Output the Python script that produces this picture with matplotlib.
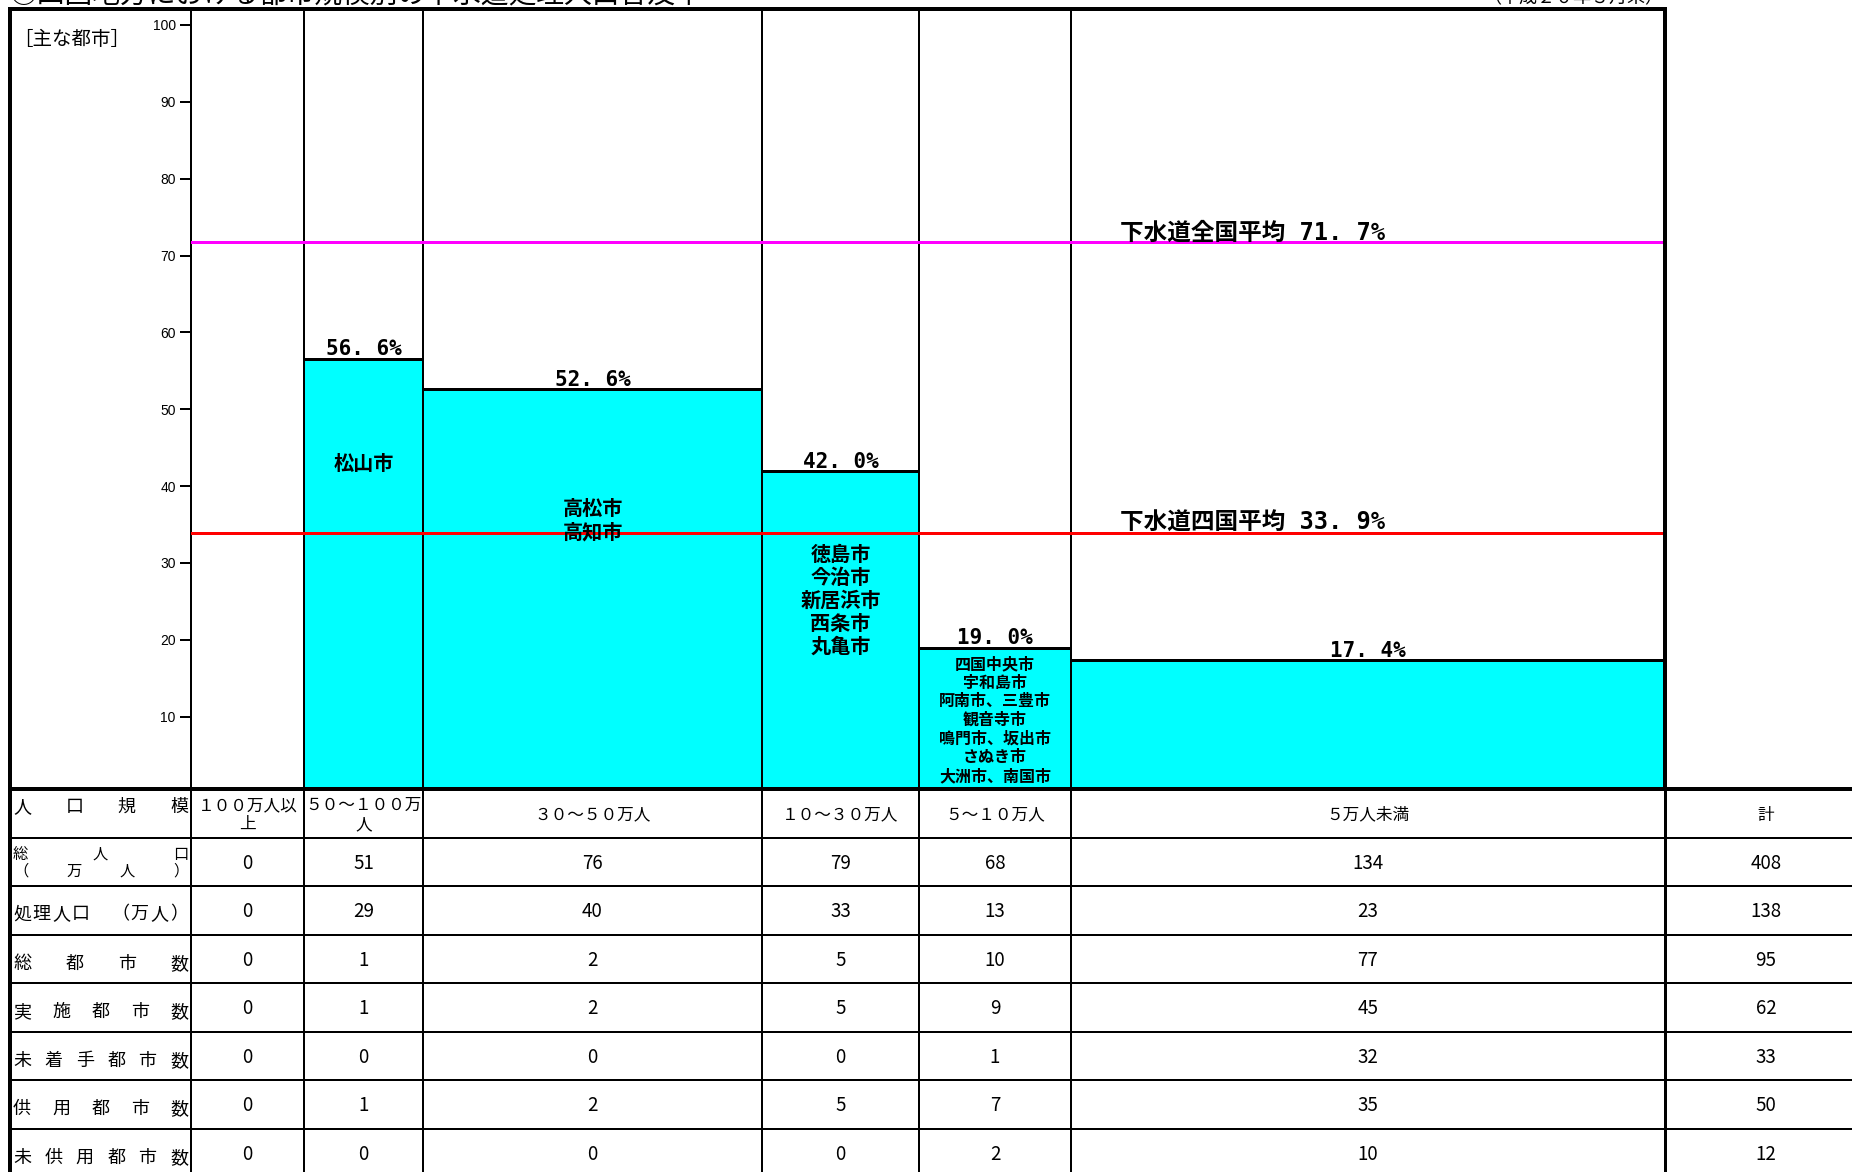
import numpy as np
import matplotlib
matplotlib.use("Agg")
import matplotlib.pyplot as plt
import matplotlib.transforms as mtransforms

plt.rcParams['font.family'] = ['Noto Sans CJK JP', 'DejaVu Sans']

# ---------------- data ----------------
title = "○四国地方における都市規模別の下水道処理人口普及率"
date_note = "（平成２０年３月末）"
categories = ["１００万人以上", "５０～１００万人", "３０～５０万人", "１０～３０万人", "５～１０万人", "５万人未満"]
total_label = "計"
rates = [0.0, 56.6, 52.6, 42.0, 19.0, 17.4]
national_avg = 71.7
shikoku_avg = 33.9
national_label = "下水道全国平均"
shikoku_label = "下水道四国平均"
main_cities = [
    [],
    ["松山市"],
    ["高松市", "高知市"],
    ["徳島市", "今治市", "新居浜市", "西条市", "丸亀市"],
    ["四国中央市", "宇和島市", "阿南市、三豊市", "観音寺市", "鳴門市、坂出市", "さぬき市", "大洲市、南国市"],
    [],
]
cities_heading = "［主な都市］"
yticks = [10, 20, 30, 40, 50, 60, 70, 80, 90, 100]

row_labels = ["人口規模", "総人口|（万人）", "処理人口　（万人）", "総都市数", "実施都市数",
              "未着手都市数", "供用都市数", "未供用都市数"]
total_pop = [0, 51, 76, 79, 68, 134, 408]
treated_pop = [0, 29, 40, 33, 13, 23, 138]
total_cities = [0, 1, 2, 5, 10, 77, 95]
implementing_cities = [0, 1, 2, 5, 9, 45, 62]
not_started_cities = [0, 0, 0, 0, 1, 32, 33]
in_service_cities = [0, 1, 2, 5, 7, 35, 50]
not_in_service_cities = [0, 0, 0, 0, 2, 10, 12]

# ---------------- layout (pixels) ----------------
W, H = 1852, 1172
col_edges = [191, 304, 423, 762, 919, 1071, 1665]
total_col_center = 1766
frame_left, frame_top, table_top = 10, 9, 789
row_h = 48.5
city_label_y = [None, 43.1, 35.7, 25.3, 9.7, None]
city_font = [None, 14.5, 14.5, 14.5, 11.5, None]
city_step_px = [None, 23, 23, 23, 18.7, None]
PT = 0.72  # points per pixel at dpi 100
CJK_MID = 0.38  # glyph centre height above baseline, in em

fig = plt.figure(figsize=(W / 100, H / 100), dpi=100)
fig.patch.set_facecolor("white")

# ---------------- chart ----------------
ax = fig.add_axes([col_edges[0] / W, 1 - table_top / H,
                   (col_edges[-1] - col_edges[0]) / W, (table_top - frame_top) / H])
ax.set_xlim(col_edges[0], col_edges[-1])
ax.set_ylim(0.59, 102.08)
ax.patch.set_alpha(0)

lefts = np.array(col_edges[:-1], dtype=float)
widths = np.diff(col_edges).astype(float)
centers = lefts + widths / 2

ax.bar(lefts, rates, width=widths, align="edge", color="#00FFFF", edgecolor="none", zorder=1)
for l, w, v in zip(lefts, widths, rates):
    if v > 0:
        ax.hlines(v, l - 1, l + w, color="black", lw=3 * PT, zorder=3)
for x in col_edges[1:-1]:
    ax.axvline(x, color="black", lw=2 * PT, zorder=2)

ax.axhline(national_avg, color="#FF00FF", lw=3 * PT, zorder=4)
ax.axhline(shikoku_avg, color="#FF0000", lw=3 * PT, zorder=4)

mono_cjk = ['DejaVu Sans Mono', 'Noto Sans CJK JP']
val_size = 15
for c, v in zip(centers, rates):
    if v > 0:
        ax.annotate(f"{v:.1f}%".replace(".", ". "), xy=(c, v),
                    xytext=(0, 11 * PT - CJK_MID * val_size),
                    textcoords="offset points", ha="center", va="baseline",
                    fontsize=val_size, fontweight="bold", family=mono_cjk, zorder=6)

for i, cities in enumerate(main_cities):
    if not cities:
        continue
    n = len(cities)
    fs = city_font[i]
    for k, name in enumerate(cities):
        off = -(k - (n - 1) / 2) * city_step_px[i] * PT - CJK_MID * fs
        ax.annotate(name, xy=(centers[i], city_label_y[i]), xytext=(0, off),
                    textcoords="offset points", ha="center", va="baseline",
                    fontsize=fs, fontweight="bold", zorder=6)

blend = mtransforms.blended_transform_factory(ax.transAxes, ax.transData)
lab_x = (1120 - col_edges[0]) / (col_edges[-1] - col_edges[0])
avg_size = 17
for name, val in [(national_label, national_avg), (shikoku_label, shikoku_avg)]:
    ax.annotate(f"{name} {val:.1f}%".replace(".", ". "), xy=(lab_x, val), xycoords=blend,
                xytext=(0, 12 * PT - CJK_MID * avg_size), textcoords="offset points",
                ha="left", va="baseline",
                fontsize=avg_size, fontweight="bold", family=mono_cjk, zorder=6)

for s in ["top", "right", "bottom"]:
    ax.spines[s].set_visible(False)
ax.spines["left"].set_linewidth(2 * PT)
ax.set_xticks([])
ax.set_yticks(yticks)
ax.tick_params(axis="y", direction="out", length=11 * PT, width=2 * PT, pad=3, labelsize=10)
for tl in ax.get_yticklabels():
    tl.set_fontfamily(['Liberation Sans Narrow', 'Liberation Sans', 'DejaVu Sans'])

# ---------------- overlay: frame and table ----------------
ov = fig.add_axes([0, 0, 1, 1], zorder=5)
ov.set_xlim(0, W)
ov.set_ylim(H, 0)
ov.axis("off")
ov.patch.set_alpha(0)

thick = 4 * PT
ov.plot([frame_left, col_edges[-1]], [frame_top, frame_top], color="black", lw=thick, solid_capstyle="projecting")
ov.plot([frame_left, frame_left], [frame_top, H], color="black", lw=thick, solid_capstyle="projecting")
ov.plot([col_edges[-1], col_edges[-1]], [frame_top, table_top], color="black", lw=thick, solid_capstyle="projecting")
ov.plot([col_edges[-1], col_edges[-1]], [table_top, H], color="black", lw=3 * PT)
ov.plot([frame_left, W], [table_top, table_top], color="black", lw=thick)
for k in range(1, 8):
    y = table_top + k * row_h
    ov.plot([frame_left, W], [y, y], color="black", lw=2 * PT)
for x in col_edges[:-1]:
    ov.plot([x, x], [table_top, H], color="black", lw=2 * PT)


def text_mid(x, y, s, size, **kw):
    """place text so that its glyph middle sits at pixel row y"""
    ov.text(x, y + CJK_MID * size / PT, s, va="baseline", fontsize=size, **kw)


text_mid(13, 38, cities_heading, 14, ha="left")

fig.text(frame_left / W, 1 - 3 / H, title, ha="left", va="baseline", fontsize=20)
fig.text(1663 / W, 1 - 3 / H, date_note, ha="right", va="baseline", fontsize=13)


def distributed(text, y, left=frame_left, right=col_edges[0], cw=18, size=13):
    chars = list(text)
    n = len(chars)
    x0, x1 = left + 3 + cw / 2, right - 3 - cw / 2
    xs = [x0 + (x1 - x0) * i / (n - 1) for i in range(n)] if n > 1 else [(x0 + x1) / 2]
    for x, ch in zip(xs, chars):
        text_mid(x, y, ch, size, ha="center")


row_centers = [table_top + row_h * (k + 0.5) for k in range(8)]
label_dy = [-8, 0, 2, 3, 3, 3, 3, 3]
for k, lab in enumerate(row_labels):
    if "|" in lab:
        a, b = lab.split("|")
        distributed(a, row_centers[k] - 9, cw=15, size=11)
        distributed(b, row_centers[k] + 8, cw=15, size=11)
    else:
        distributed(lab, row_centers[k] + label_dy[k])

# header row
col_centers = list(centers) + [total_col_center]
col_widths = list(widths) + [200]
header_size = 12
header_px = header_size / PT
for c, w, name in zip(col_centers, col_widths, categories + [total_label]):
    per_line = max(1, int((w - 2) // header_px))
    lines = [name[i:i + per_line] for i in range(0, len(name), per_line)]
    n = len(lines)
    for k, ln in enumerate(lines):
        text_mid(c, row_centers[0] + (k - (n - 1) / 2) * 19.5, ln, header_size, ha="center")

table_rows = [total_pop, treated_pop, total_cities, implementing_cities,
              not_started_cities, in_service_cities, not_in_service_cities]
for r, vals in enumerate(table_rows):
    for c, v in zip(col_centers, vals):
        text_mid(c, row_centers[r + 1], str(v), 13.5, ha="center")

fig.savefig("out.png", dpi=100, facecolor="white")
